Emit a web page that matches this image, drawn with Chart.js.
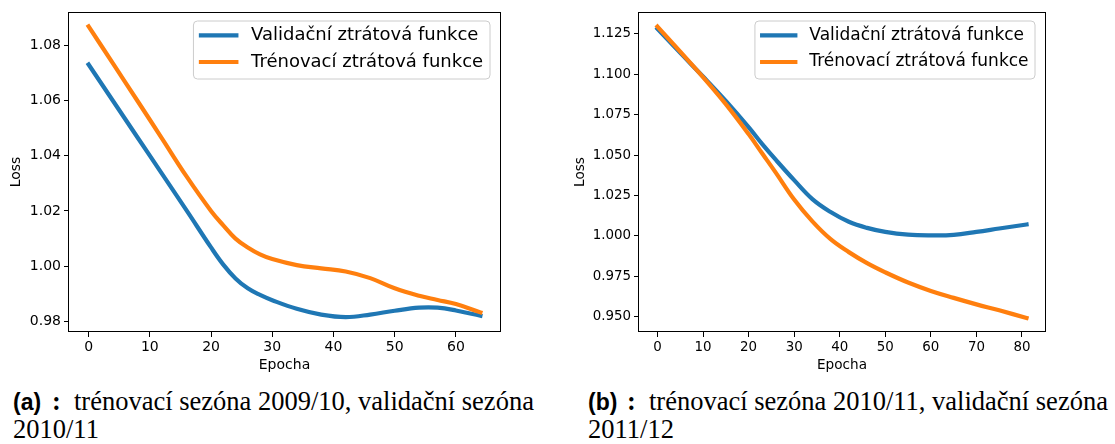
<!DOCTYPE html>
<html>
<head>
<meta charset="utf-8">
<title>Loss</title>
<script src="https://cdn.jsdelivr.net/npm/chart.js@4.4.0/dist/chart.umd.min.js"></script>
<style>
  html, body { margin: 0; padding: 0; background: #fff; width: 1115px; height: 444px; overflow: hidden; }
  .panel { position: absolute; top: 0; }
  .caption {
    position: absolute;
    font-family: "Liberation Serif", serif;
    font-size: 26.5px;
    line-height: 27px;
    white-space: nowrap;
    color: #000;
  }
  .caption .tag {
    display: inline-block;
    width: 39px;
    font-family: "Liberation Sans", sans-serif;
    font-weight: bold;
    font-size: 23px;
  }
  .caption .colon {
    display: inline-block;
    width: 22px;
    font-weight: bold;
  }
</style>
</head>
<body>
<div class="panel" style="left:0;width:540px;height:380px"><canvas id="lossA" width="540" height="380"></canvas></div>
<div class="panel" style="left:560px;width:555px;height:380px"><canvas id="lossB" width="555" height="380"></canvas></div>
<div class="caption" style="left:13px;top:388px"><span class="tag">(a)</span><span class="colon">:</span>trénovací sezóna 2009/10, validační sezóna<br>2010/11</div>
<div class="caption" style="left:588px;top:388px"><span class="tag">(b)</span><span class="colon">:</span>trénovací sezóna 2010/11, validační sezóna<br>2011/12</div>
<script>
// (a) training 2009/10, validation 2010/11
const epochsA = [0, 4, 8, 12, 16, 20, 22, 24, 26, 28, 30, 34, 38, 42, 46, 50, 54, 57, 60, 64];
const valLossA = [1.0730, 1.0598, 1.0466, 1.0334, 1.0202, 1.0068, 1.0006, 0.9956, 0.9920, 0.9896, 0.9877, 0.9846, 0.9825, 0.9816, 0.9825, 0.9839, 0.9850, 0.9850, 0.9840, 0.9821];
const trainLossA = [1.0868, 1.0733, 1.0598, 1.0462, 1.0325, 1.0200, 1.0148, 1.0100, 1.0068, 1.0043, 1.0026, 1.0004, 0.9992, 0.9981, 0.9957, 0.9920, 0.9893, 0.9878, 0.9863, 0.9833];
const xTicksA = [0, 10, 20, 30, 40, 50, 60];
const yTicksA = [0.98, 1.00, 1.02, 1.04, 1.06, 1.08];

// (b) training 2010/11, validation 2011/12
const epochsB = [0, 5, 10, 15, 20, 23, 26, 30, 34, 38, 42, 46, 50, 55, 60, 65, 70, 75, 81];
const valLossB = [1.1281, 1.1132, 1.0986, 1.0835, 1.0673, 1.0568, 1.0470, 1.0345, 1.0228, 1.0148, 1.0088, 1.0050, 1.0025, 1.0008, 1.0004, 1.0007, 1.0025, 1.0046, 1.0071];
const trainLossB = [1.1295, 1.1140, 1.0982, 1.0815, 1.0630, 1.0510, 1.0390, 1.0225, 1.0090, 0.9980, 0.9900, 0.9832, 0.9775, 0.9712, 0.9660, 0.9617, 0.9577, 0.9540, 0.9493];
const xTicksB = [0, 10, 20, 30, 40, 50, 60, 70, 80];
const yTicksB = [0.950, 0.975, 1.000, 1.025, 1.050, 1.075, 1.100, 1.125];

const seriesNames = ['Validační ztrátová funkce', 'Trénovací ztrátová funkce'];
const seriesColors = ['#1f77b4', '#ff7f0e'];

Chart.defaults.font.family = "'DejaVu Sans', sans-serif";
Chart.defaults.color = '#000';

// axes box + matplotlib-like legend in the upper right corner
const frameAndLegend = {
  id: 'frameAndLegend',
  afterDatasetsDraw(chart, args, opts) {
    const { ctx, chartArea: a } = chart;
    ctx.save();
    ctx.strokeStyle = '#000';
    ctx.lineWidth = 1;
    ctx.strokeRect(Math.round(a.left) - 0.5, Math.round(a.top) + 0.5,
      Math.round(a.right - a.left) + 1, Math.round(a.bottom - a.top) - 1);

    const fs = opts.fontSize;
    ctx.font = fs + "px 'DejaVu Sans'";
    const sets = chart.data.datasets;
    const textW = Math.max(...sets.map(d => ctx.measureText(d.label).width));
    const pad = 0.3 * fs, handle = 2.2 * fs, gap = 0.7 * fs;
    const w = pad + handle + gap + textW + 0.38 * fs;
    const h = 58;
    const x0 = a.right - 10 - w, y0 = a.top + 9;

    ctx.beginPath();
    ctx.roundRect(x0, y0, w, h, 4);
    ctx.fillStyle = 'rgba(255,255,255,0.8)';
    ctx.fill();
    ctx.strokeStyle = '#cccccc';
    ctx.stroke();

    sets.forEach((d, i) => {
      const cy = y0 + 14.3 + i * 26.7;
      ctx.beginPath();
      ctx.lineWidth = d.borderWidth;
      ctx.strokeStyle = d.borderColor;
      ctx.lineCap = 'butt';
      ctx.moveTo(x0 + pad, cy);
      ctx.lineTo(x0 + pad + handle, cy);
      ctx.stroke();
      ctx.fillStyle = '#000';
      ctx.textBaseline = 'middle';
      ctx.textAlign = 'left';
      ctx.fillText(d.label, x0 + pad + handle + gap, cy);
    });
    ctx.restore();
  }
};

function makeLossChart(id, epochs, valLoss, trainLoss, xTicks, yTicks, yDecimals, cfg) {
  const toPoints = ys => epochs.map((e, i) => ({ x: e, y: ys[i] }));
  const line = (idx, ys, order) => ({
    label: seriesNames[idx],
    data: toPoints(ys),
    borderColor: seriesColors[idx],
    backgroundColor: seriesColors[idx],
    borderWidth: 4.2,
    borderCapStyle: 'square',
    pointRadius: 0,
    tension: 0.4,
    fill: false,
    order: order
  });

  return new Chart(document.getElementById(id), {
    type: 'line',
    data: {
      datasets: [line(0, valLoss, 2), line(1, trainLoss, 1)]
    },
    options: {
      responsive: false,
      animation: false,
      events: [],
      layout: { padding: { left: 0, top: 12, right: cfg.padRight, bottom: 0 } },
      plugins: {
        legend: { display: false },
        tooltip: { enabled: false },
        frameAndLegend: { fontSize: cfg.legendSize }
      },
      scales: {
        x: {
          type: 'linear',
          min: cfg.xMin,
          max: cfg.xMax,
          afterBuildTicks: s => { s.ticks = xTicks.map(v => ({ value: v })); },
          afterFit: s => { s.height = 48; },
          border: { display: false },
          grid: { drawOnChartArea: false, color: '#000', tickLength: 5, lineWidth: 1 },
          ticks: {
            font: { size: cfg.tickSize }, color: '#000', padding: 2,
            maxRotation: 0, autoSkip: false,
            callback: v => String(v)
          },
          title: {
            display: true, text: 'Epocha', color: '#000',
            font: { size: cfg.labelSize }, padding: { top: 0, bottom: 6 }
          }
        },
        y: {
          type: 'linear',
          min: cfg.yMin,
          max: cfg.yMax,
          afterBuildTicks: s => { s.ticks = yTicks.map(v => ({ value: v })); },
          afterFit: s => { s.width = cfg.yAxisWidth; },
          border: { display: false },
          grid: { drawOnChartArea: false, color: '#000', tickLength: 5, lineWidth: 1 },
          ticks: {
            font: { size: cfg.tickSize }, color: '#000', padding: 3,
            autoSkip: false,
            callback: v => Number(v).toFixed(yDecimals)
          },
          title: {
            display: true, text: 'Loss', color: '#000',
            font: { size: cfg.labelSize }, padding: { top: cfg.yTitlePad, bottom: 0 }
          }
        }
      }
    },
    plugins: [frameAndLegend]
  });
}

makeLossChart('lossA', epochsA, valLossA, trainLossA, xTicksA, yTicksA, 2, {
  padRight: 40, yAxisWidth: 69, xMin: -3.2, xMax: 67.2, yMin: 0.9762, yMax: 1.0920,
  tickSize: 14, labelSize: 14, legendSize: 18, yTitlePad: 7.6
});

makeLossChart('lossB', epochsB, valLossB, trainLossB, xTicksB, yTicksB, 3, {
  padRight: 70, yAxisWidth: 79, xMin: -4.05, xMax: 85.05, yMin: 0.9406, yMax: 1.1385,
  tickSize: 13.4, labelSize: 13.6, legendSize: 17, yTitlePad: 12
});
</script>
</body>
</html>
